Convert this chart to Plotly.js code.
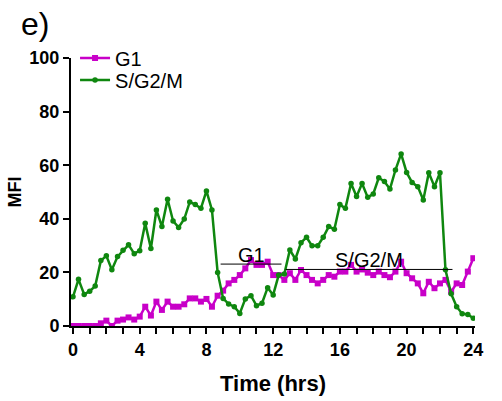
<!DOCTYPE html>
<html>
<head>
<meta charset="utf-8">
<script src="https://cdn.plot.ly/plotly-3.0.1.min.js"></script>
<style>html,body{margin:0;padding:0;background:#fff;}#chart{width:502px;height:401px;}</style>
</head>
<body>
<div id="chart"></div>
<script>
// Time points (hrs)
var timeHrs = [0,0.33,0.67,1,1.33,1.67,2,2.33,2.67,3,3.33,3.67,4,4.33,4.67,5,5.33,5.67,6,6.33,6.67,7,7.33,7.67,8,8.33,8.67,9,9.33,9.67,10,10.33,10.67,11,11.33,11.67,12,12.33,12.67,13,13.33,13.67,14,14.33,14.67,15,15.33,15.67,16,16.33,16.67,17,17.33,17.67,18,18.33,18.67,19,19.33,19.67,20,20.33,20.67,21,21.33,21.67,22,22.33,22.67,23,23.33,23.67,24];
// G1 MFI
var g1Values = [0,0,0,0,0,1.0,2.0,0,2.0,2.4,3.2,2.4,3.5,7.2,3.9,9.1,6.0,9.1,7.2,7.2,8.1,10.3,10.3,9.1,10.1,7.2,11.3,13.2,15.9,17.2,19.0,21.5,24.6,22.8,22.8,24.0,19.0,19.0,17.2,19.7,17.2,20.9,19.0,17.2,15.9,17.2,19.0,18.4,20.3,20.3,22.8,20.3,21.1,19.9,19.0,20.3,19.0,18.2,20.3,24.0,19.7,17.8,15.9,12.2,16.5,14.1,15.9,17.2,12.8,15.9,15.3,20.3,25.3];
// S/G2/M MFI
var sg2mValues = [10.9,17.4,11.8,13.0,14.9,24.4,26.2,21.0,25.9,28.3,30.3,27.0,28.1,38.3,28.9,43.3,37.1,47.3,39.2,36.8,39.9,46.3,45.3,43.9,50.4,43.3,20.0,10.3,8.2,7.2,4.7,10.1,11.3,7.6,8.5,14.3,11.6,19.0,19.4,28.4,25.0,31.1,33.1,29.9,29.9,33.1,37.1,36.1,45.3,43.9,53.2,48.3,53.2,48.0,49.3,55.3,53.9,51.1,58.2,64.2,57.3,53.5,52.0,47.0,57.2,52.0,57.2,21.0,12.0,7.2,4.6,4.3,2.9];
// Phase bracket annotations
var phaseLabels = ["G1", "S/G2/M"];
var phaseLabelX = [10.7, 17.75];
var phaseStart = [8.85, 12.75];
var phaseEnd = [12.5, 22.75];
var phaseLevel = [23.1, 21.1];
var xTickVals = [0,4,8,12,16,20,24];
var yTickVals = [0,20,40,60,80,100];

var FONT = "Liberation Sans, Arial, Helvetica, sans-serif";
var traces = [
  {x: timeHrs, y: g1Values, name: "G1", type: "scatter", mode: "lines+markers", legend: "legend",
   line: {color: "#c800c8", width: 2.5}, marker: {symbol: "square", size: 6, color: "#c800c8"}},
  {x: timeHrs, y: sg2mValues, name: "S/G2/M", type: "scatter", mode: "lines+markers", legend: "legend2",
   line: {color: "#0f870f", width: 2.5}, marker: {symbol: "circle", size: 5.5, color: "#0f870f"}}
];
var annotations = [];
for (var i = 0; i < phaseLabels.length; i++) {
  traces.push({x: [phaseStart[i], phaseEnd[i]], y: [phaseLevel[i], phaseLevel[i]], type: "scatter", mode: "lines",
    line: {color: "#000", width: 1}, showlegend: false, hoverinfo: "skip"});
  annotations.push({x: phaseLabelX[i], y: phaseLevel[i], xref: "x", yref: "y",
    text: phaseLabels[i], showarrow: false, yanchor: "bottom", yshift: -4,
    font: {family: FONT, size: 20, color: "#000"}});
}
var legendFont = {family: FONT, size: 20, color: "#000"};
var layout = {
  width: 502, height: 401,
  margin: {l: 71, r: 27, t: 58, b: 75},
  paper_bgcolor: "#fff", plot_bgcolor: "#fff",
  title: {text: "e)", x: 21/502, xanchor: "left", xref: "container", y: 1 - 24/401, yref: "container", yanchor: "middle",
    font: {family: FONT, size: 32, color: "#000"}},
  showlegend: true,
  legend: {x: 0.01, y: (326 - 58) / 268, xanchor: "left", yanchor: "middle", bgcolor: "rgba(0,0,0,0)",
    font: legendFont, itemwidth: 30},
  legend2: {x: 0.01, y: (326 - 80) / 268, xanchor: "left", yanchor: "middle", bgcolor: "rgba(0,0,0,0)",
    font: legendFont, itemwidth: 30},
  xaxis: {range: [-0.12, 24.1], tickvals: xTickVals, ticks: "outside", ticklen: 6, tickwidth: 2, tickcolor: "#000",
    showline: true, linewidth: 2, linecolor: "#000", showgrid: false, zeroline: false,
    minor: {dtick: 1, tick0: 0, ticks: "outside", ticklen: 6, tickwidth: 2, tickcolor: "#000", showgrid: false},
    tickfont: {family: FONT, size: 18, color: "#000", weight: "bold"},
    title: {text: "Time (hrs)", font: {family: FONT, size: 22, color: "#000", weight: "bold"}, standoff: 17}},
  yaxis: {range: [0, 100], tickvals: yTickVals, ticks: "outside", ticklen: 6, tickwidth: 2, tickcolor: "#000",
    showline: true, linewidth: 2, linecolor: "#000", showgrid: false, zeroline: false,
    tickfont: {family: FONT, size: 18, color: "#000", weight: "bold"},
    title: {text: "MFI", font: {family: FONT, size: 18, color: "#000", weight: "bold"}, standoff: 3}},
  annotations: annotations
};
Plotly.newPlot("chart", traces, layout, {displayModeBar: false, staticPlot: true});
</script>
</body>
</html>
